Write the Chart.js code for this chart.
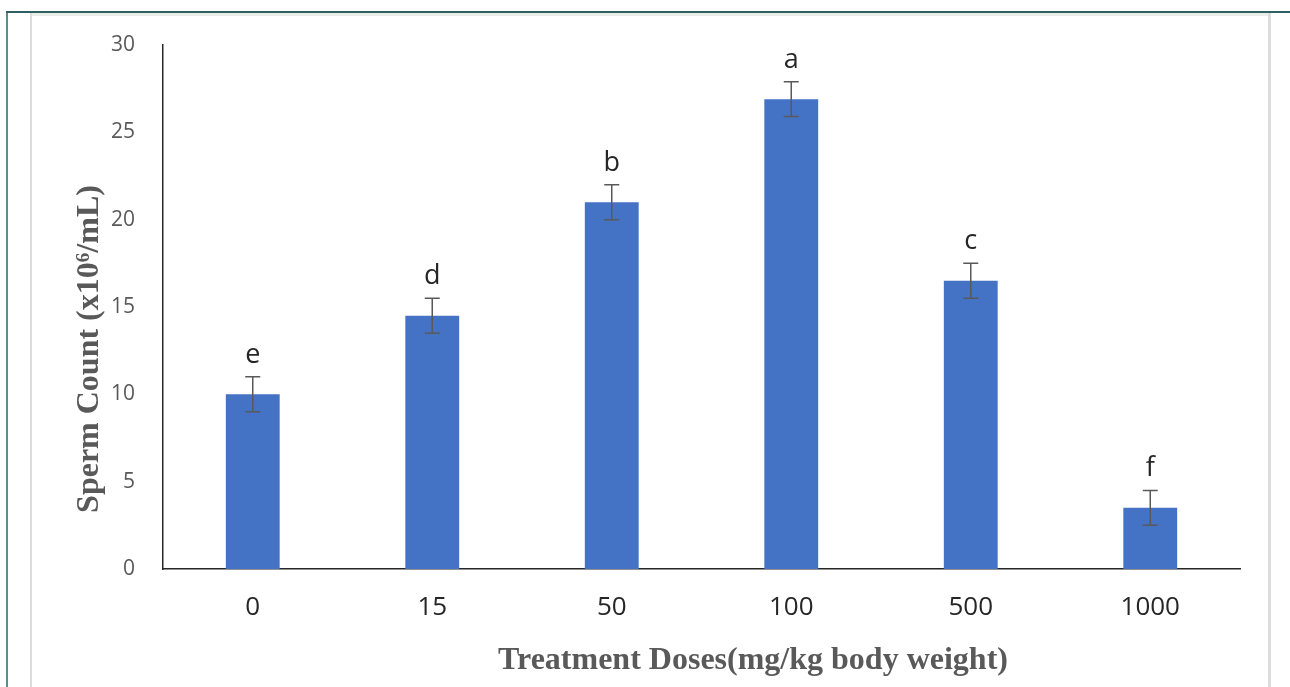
<!DOCTYPE html>
<html>
<head>
<meta charset="utf-8">
<script src="https://cdn.jsdelivr.net/npm/chart.js@4"></script>
<style>
  html, body { margin: 0; padding: 0; background: #fff; }
  #wrap { position: relative; width: 1290px; height: 687px; overflow: hidden; }
  .ln { position: absolute; }
  canvas { position: absolute; left: 0; top: 0; }
</style>
</head>
<body>
<div id="wrap">
  <div class="ln" style="left:6px;top:11px;width:2px;height:676px;background:#5f8b8b"></div>
  <div class="ln" style="left:6px;top:11px;width:1284px;height:2px;background:#2f5f5f"></div>
  <div class="ln" style="left:31px;top:13px;width:1238px;height:3px;background:#e9eee9"></div>
  <div class="ln" style="left:30px;top:13px;width:2px;height:674px;background:#dcdcdc"></div>
  <div class="ln" style="left:1268px;top:13px;width:3px;height:674px;background:#dcdcdc"></div>
  <canvas id="myChart" width="1290" height="687"></canvas>
</div>
<script>
// Treatment doses (mg/kg body weight)
const doses = ['0', '15', '50', '100', '500', '1000'];
// Sperm count (x10^6/mL)
const spermCount = [10, 14.5, 21, 26.9, 16.5, 3.5];
// Error bar half-lengths
const spermError = [1, 1, 1, 1, 1, 1];
// Significance letters above bars
const groupLetters = ['e', 'd', 'b', 'a', 'c', 'f'];
// y axis ticks
const yMin = 0, yMax = 30, yStep = 5;

// Draw error bars and letters on top of each bar
const errorBars = {
  id: 'errorBars',
  afterDatasetsDraw(chart) {
    const ctx = chart.ctx;
    const y = chart.scales.y;
    const meta = chart.getDatasetMeta(0);
    ctx.save();
    meta.data.forEach((bar, i) => {
      const top = y.getPixelForValue(spermCount[i] + spermError[i]);
      const bottom = y.getPixelForValue(spermCount[i] - spermError[i]);
      ctx.strokeStyle = '#595959';
      ctx.lineWidth = 1.5;
      ctx.beginPath();
      ctx.moveTo(bar.x, top);
      ctx.lineTo(bar.x, bottom);
      ctx.moveTo(bar.x - 7.5, top);
      ctx.lineTo(bar.x + 7.5, top);
      ctx.moveTo(bar.x - 7.5, bottom);
      ctx.lineTo(bar.x + 7.5, bottom);
      ctx.stroke();

      ctx.fillStyle = '#262626';
      ctx.font = '27px "Open Sans"';
      ctx.textAlign = 'center';
      ctx.textBaseline = 'alphabetic';
      ctx.fillText(groupLetters[i], bar.x, top - 14);
    });
    ctx.restore();
  }
};

// Axis titles in bold serif, like the original figure
const axisTitles = {
  id: 'axisTitles',
  afterDraw(chart) {
    const ctx = chart.ctx;
    ctx.save();
    ctx.fillStyle = '#595959';
    ctx.font = 'bold 32px "Liberation Serif"';
    ctx.textAlign = 'center';
    ctx.textBaseline = 'middle';
    ctx.fillText('Treatment Doses(mg/kg body weight)', 753, 661);
    ctx.translate(90, 349);
    ctx.rotate(-Math.PI / 2);
    ctx.fillText('Sperm Count (x10\u2076/mL)', 0, 0);
    ctx.restore();
  }
};

const ctx = document.getElementById('myChart').getContext('2d');
new Chart(ctx, {
  type: 'bar',
  data: {
    labels: doses,
    datasets: [{
      data: spermCount,
      backgroundColor: '#4472C4',
      borderWidth: 0,
      categoryPercentage: 1,
      barPercentage: 0.3
    }]
  },
  options: {
    responsive: false,
    animation: false,
    devicePixelRatio: 1,
    layout: { padding: { left: 0, top: 45, right: 50, bottom: 0 } },
    scales: {
      x: {
        grid: { display: false },
        border: { display: true, color: '#262626', width: 1.5 },
        ticks: {
          color: '#262626',
          padding: 15,
          font: { family: '"Open Sans"', size: 26 }
        },
        afterFit: (scale) => { scale.height = 118; }
      },
      y: {
        min: yMin,
        max: yMax,
        grid: { display: false },
        border: { display: true, color: '#262626', width: 1.5 },
        ticks: {
          stepSize: yStep,
          color: '#595959',
          padding: 20,
          font: { family: '"Open Sans"', size: 21 }
        },
        afterFit: (scale) => { scale.width = 163; }
      }
    },
    plugins: {
      legend: { display: false },
      tooltip: { enabled: false }
    }
  },
  plugins: [errorBars, axisTitles]
});
</script>
</body>
</html>
